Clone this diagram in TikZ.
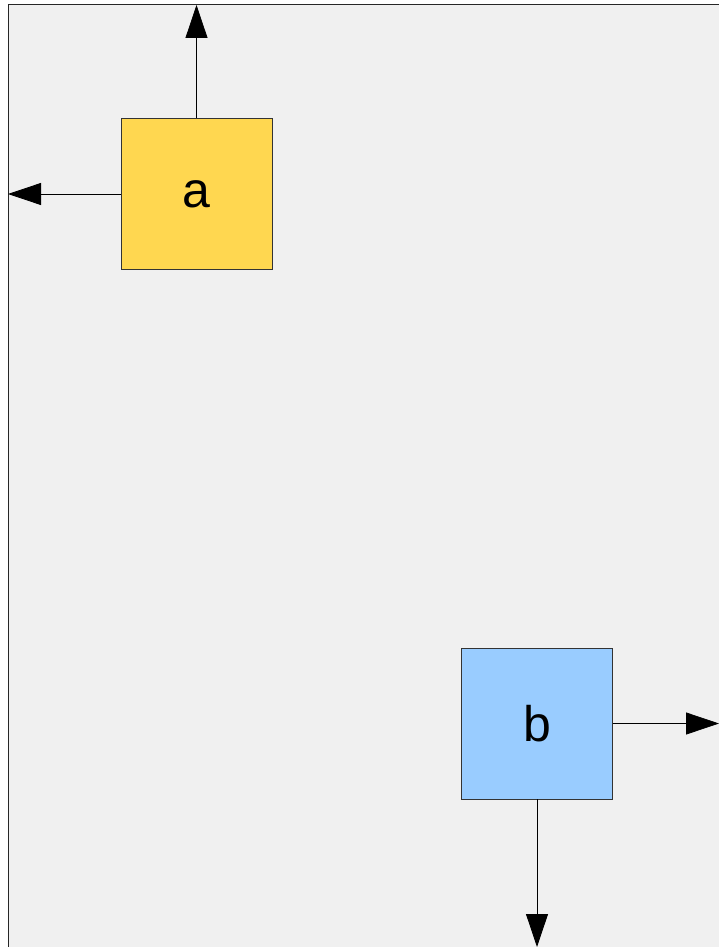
\documentclass[tikz,border=0pt]{standalone}
\usepackage{fontspec}
\setmainfont{Liberation Sans}
\usetikzlibrary{arrows.meta}
\definecolor{bggray}{HTML}{F0F0F0}
\definecolor{boxyellow}{HTML}{FFD750}
\definecolor{boxblue}{HTML}{99CCFF}
\begin{document}
\begin{tikzpicture}[x=1pt,y=-1pt,
  box/.style={draw=black!80, line width=0.8pt, minimum width=151pt, minimum height=151pt, inner sep=0pt, font=\fontsize{50}{60}\selectfont},
  arr/.style={-{Triangle[length=33pt,width=22pt]}, line width=0.8pt}]
\useasboundingbox (0,0) rectangle (719,947);
% Frame
\fill[bggray] (8,5) rectangle (719,947);
\draw[line width=1pt, black!85] (8,947) -- (8,5) -- (719,5);

% Boxes
\node[box, fill=boxyellow] (a) at (196.5,194) {a};
\node[box, fill=boxblue] (b) at (537,723.5) {b};

\coordinate (aup) at (196.5,5);
\coordinate (aleft) at (8,194);
\coordinate (bright) at (719,723.5);
\coordinate (bdown) at (537,947);

% Arrows
\draw[arr] (a.north) -- (aup);
\draw[arr] (a.west) -- (aleft);
\draw[arr] (b.east) -- (bright);
\draw[arr] (b.south) -- (bdown);

\end{tikzpicture}
\end{document}
